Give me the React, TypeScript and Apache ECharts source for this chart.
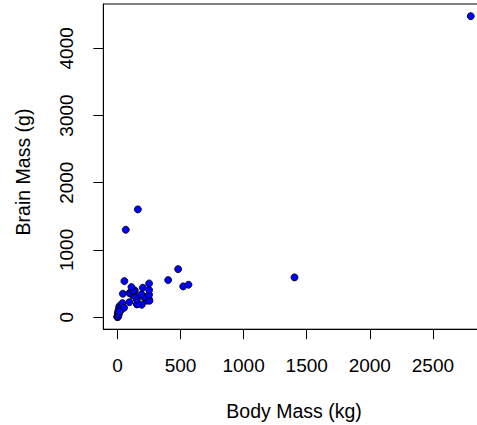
import React, { useEffect, useRef } from "react";
import * as echarts from "echarts";

const bodyMass: number[] = [
  0.1, 0.5, 1, 2, 4, 6, 3, 11, 8, 27, 19, 13, 45, 21, 37, 40, 53, 10, 15,
  95, 154, 193, 158, 154, 233, 251, 254, 143, 209, 212, 122, 251, 190, 43,
  95, 103, 138, 122, 124, 251, 201, 111, 251, 55, 402, 481, 521, 563, 1403,
  66, 162, 2800,
];
const brainMass: number[] = [
  0.5, 5, 2, 12, 20, 10, 60, 60, 100, 100, 125, 149, 149, 174, 184, 208, 140, 40, 80,
  223, 189, 184, 199, 259, 245, 263, 244, 308, 298, 304, 323, 333, 338, 348,
  357, 363, 397, 387, 397, 402, 437, 447, 501, 536, 551, 714, 457, 482, 591,
  1300, 1603, 4479,
];
const xTicks: number[] = [0, 500, 1000, 1500, 2000, 2500];
const yTicks: number[] = [0, 1000, 2000, 3000, 4000];
const xTitle = "Body Mass (kg)";
const yTitle = "Brain Mass (g)";

const FONT = "'Liberation Sans', Arial, Helvetica, sans-serif";

export default function App() {
  const ref = useRef<HTMLDivElement>(null);
  useEffect(() => {
    if (!ref.current) return;
    const chart = echarts.init(ref.current, null, { renderer: "svg" });
    const pts = bodyMass.map((x, i) => [x, brainMass[i]]);
    chart.setOption({
      animation: false,
      backgroundColor: "#ffffff",
      grid: {
        left: 103.3,
        top: 4,
        width: 381.6,
        height: 325.2,
        containLabel: false,
        outerBoundsMode: "none",
        show: true,
        borderColor: "#000",
        borderWidth: 1,
        backgroundColor: "transparent",
      },
      xAxis: {
        type: "value",
        min: -112,
        max: 2912,
        splitLine: { show: false },
        axisLine: { show: true, onZero: false, lineStyle: { color: "#000", width: 1 } },
        axisTick: {
          show: true,
          inside: false,
          length: 10,
          customValues: xTicks,
          lineStyle: { color: "#000", width: 1 },
        },
        axisLabel: {
          customValues: xTicks,
          formatter: (v: number) => String(v),
          margin: 27,
          fontSize: 19,
          color: "#000",
          fontFamily: FONT,
        },
      },
      yAxis: {
        type: "value",
        min: -180,
        max: 4660,
        splitLine: { show: false },
        axisLine: { show: true, onZero: false, lineStyle: { color: "#000", width: 1 } },
        axisTick: {
          show: true,
          inside: false,
          length: 10,
          customValues: yTicks,
          lineStyle: { color: "#000", width: 1 },
        },
        axisLabel: {
          customValues: yTicks,
          formatter: (v: number) => String(v),
          rotate: 90,
          margin: 27,
          fontSize: 19,
          color: "#000",
          fontFamily: FONT,
        },
      },
      graphic: [
        {
          type: "text",
          x: 294,
          y: 411,
          style: {
            text: xTitle,
            fontSize: 19.5,
            fontFamily: FONT,
            fill: "#000",
            align: "center",
            verticalAlign: "middle",
          },
        },
        {
          type: "text",
          x: 23,
          y: 172,
          rotation: Math.PI / 2,
          style: {
            text: yTitle,
            fontSize: 19.5,
            fontFamily: FONT,
            fill: "#000",
            align: "center",
            verticalAlign: "middle",
          },
        },
      ],
      series: [
        {
          type: "scatter",
          data: pts,
          symbol: "circle",
          symbolSize: 7,
          itemStyle: { color: "#0000ff", opacity: 1, borderColor: "#000", borderWidth: 0.8 },
        },
      ],
    });
    return () => chart.dispose();
  }, []);
  return (
    <div
      ref={ref}
      style={{ position: "fixed", left: 0, top: 0, width: 477, height: 425 }}
    />
  );
}
